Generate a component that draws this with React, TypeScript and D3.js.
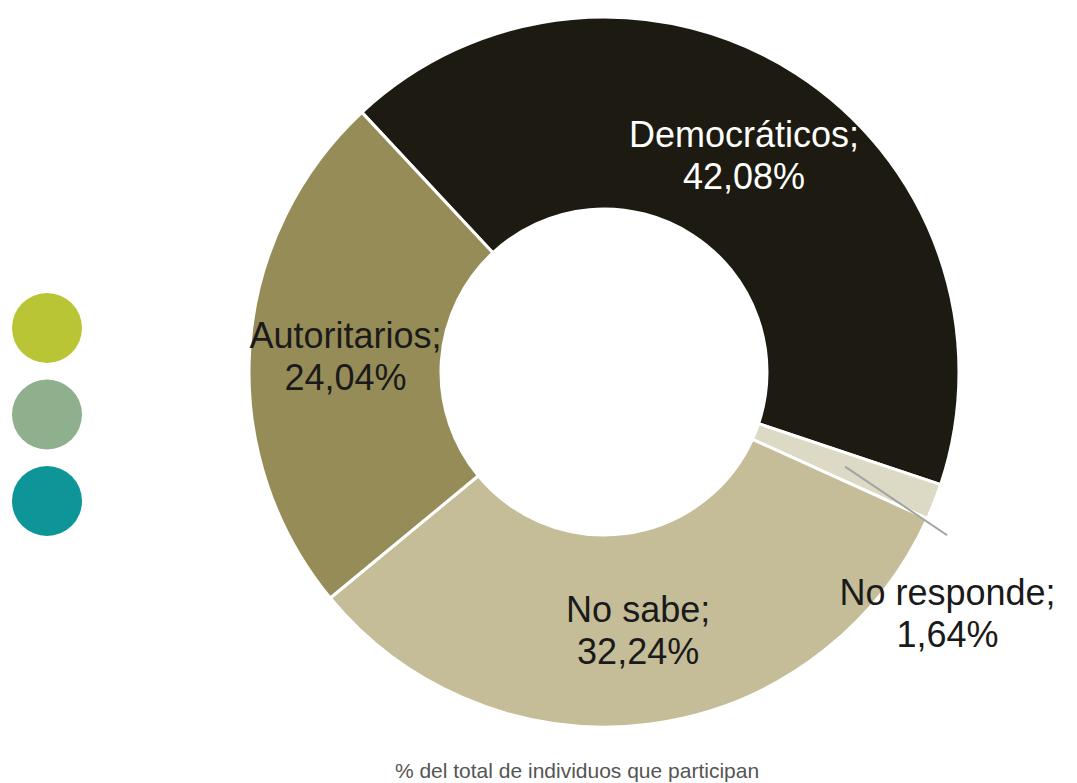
import React, { useEffect, useRef } from 'react';
import * as d3 from 'd3';

// slice order as drawn clockwise from the upper-left boundary
const categories = ['Democráticos', 'No responde', 'No sabe', 'Autoritarios'];
const values = [42.08, 1.64, 32.24, 24.04];
const sliceColors = ['#1d1a11', '#dcd9c4', '#c5bd97', '#968c58'];
const labelColors = ['#ffffff', '#1a1a1a', '#1a1a1a', '#1a1a1a'];
const dotColors = ['#b9c535', '#8fb08d', '#0e9597'];
const footnote = '% del total de individuos que participan';

const WIDTH = 1077;
const HEIGHT = 783;

const App: React.FC = () => {
  const svgRef = useRef<SVGSVGElement>(null);

  useEffect(() => {
    if (!svgRef.current) return;
    const svg = d3.select(svgRef.current);
    svg.selectAll('*').remove();

    const cx = 604;
    const cy = 372;
    const outerR = 355;
    const innerR = 163;
    const startDeg = -43;

    const data = categories.map((c, i) => ({ name: c, value: values[i], i }));

    const pie = d3
      .pie<{ name: string; value: number; i: number }>()
      .sort(null)
      .value((d) => d.value)
      .startAngle((startDeg * Math.PI) / 180)
      .endAngle(((startDeg + 360) * Math.PI) / 180);

    const arcs = pie(data);

    const arc = d3
      .arc<d3.PieArcDatum<{ name: string; value: number; i: number }>>()
      .innerRadius(innerR)
      .outerRadius(outerR);

    const g = svg.append('g').attr('transform', `translate(${cx},${cy})`);

    // Slices
    g.selectAll('path.slice')
      .data(arcs)
      .join('path')
      .attr('class', 'slice')
      .attr('d', arc)
      .attr('fill', (d) => sliceColors[d.data.i])
      .attr('stroke', '#ffffff')
      .attr('stroke-width', 3)
      .attr('stroke-linejoin', 'round');

    const polar = (angle: number, r: number): [number, number] => [
      r * Math.sin(angle),
      -r * Math.cos(angle),
    ];

    const fmt = (v: number) => v.toFixed(2).replace('.', ',') + '%';

    // Labels
    arcs.forEach((d) => {
      const mid = (d.startAngle + d.endAngle) / 2;
      let x: number;
      let y: number;
      if (d.data.value < 5) {
        // small slice: label pushed outside with a leader line
        const [sx, sy] = arc.centroid(d);
        const [ex, ey] = polar(mid + (4 * Math.PI) / 180, 380);
        g.append('line')
          .attr('x1', sx)
          .attr('y1', sy)
          .attr('x2', ex)
          .attr('y2', ey)
          .attr('stroke', '#a3a3a3')
          .attr('stroke-width', 2);
        [x, y] = polar(mid + (13.5 * Math.PI) / 180, 419);
      } else {
        [x, y] = arc.centroid(d);
      }
      const text = g
        .append('text')
        .attr('x', x)
        .attr('y', y)
        .attr('text-anchor', 'middle')
        .attr('fill', labelColors[d.data.i])
        .attr('font-family', "Arial, 'Liberation Sans', sans-serif")
        .attr('font-size', 36);
      text
        .append('tspan')
        .attr('x', x)
        .attr('dy', -7)
        .text(d.data.name + ';');
      text
        .append('tspan')
        .attr('x', x)
        .attr('dy', 42)
        .text(fmt(d.data.value));
    });

    // Decorative dots on the left
    const dotY = d3.scalePoint<number>().domain(d3.range(dotColors.length)).range([328, 501]);
    svg
      .append('g')
      .selectAll('circle')
      .data(dotColors)
      .join('circle')
      .attr('cx', 47)
      .attr('cy', (_, i) => dotY(i) || 0)
      .attr('r', 35)
      .attr('fill', (d) => d);

    // Footnote
    svg
      .append('text')
      .attr('x', 577)
      .attr('y', 778)
      .attr('text-anchor', 'middle')
      .attr('fill', '#555555')
      .attr('font-family', "Arial, 'Liberation Sans', sans-serif")
      .attr('font-size', 21)
      .text(footnote);
  }, []);

  return (
    <svg
      ref={svgRef}
      width={WIDTH}
      height={HEIGHT}
      style={{ position: 'absolute', left: 0, top: 0, background: '#ffffff' }}
    />
  );
};

export default App;
